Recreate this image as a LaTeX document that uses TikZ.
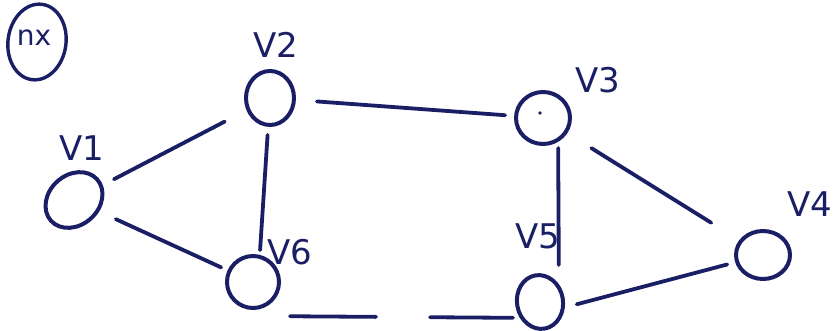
\documentclass[tikz,border=0pt]{standalone}
\usepackage{fontspec}
\setmainfont{DejaVu Sans}
\usetikzlibrary{shapes.geometric}
\definecolor{ink}{RGB}{26,30,100}
\tikzset{
  vert/.style={draw=ink, line width=4pt, ellipse, inner sep=0pt},
  lab/.style={text=ink, font=\fontsize{34}{38}\selectfont},
  edge/.style={draw=ink, line width=3.8pt, line cap=round},
}
\begin{document}
\begin{tikzpicture}[x=1pt,y=-1pt]
\useasboundingbox (0,0) rectangle (838,331);
% circled mark
\node[vert, minimum width=58pt, minimum height=76pt, rotate=-8, line width=3.4pt] (nx) at (37,42) {};
\node[lab, font=\fontsize{28}{32}\selectfont] (nxt) at (34,38) {nx};
% vertices
\node[vert, minimum width=62pt, minimum height=50pt, rotate=42] (v1) at (74,200) {};
\node[vert, minimum width=48pt, minimum height=54pt] (v2) at (270,98) {};
\node[vert, minimum width=54pt, minimum height=52pt] (v3) at (543,118) {};
\node[fill=ink, circle, inner sep=1.4pt] (v3dot) at (540,113) {};
\node[vert, minimum width=54pt, minimum height=48pt] (v4) at (763,255) {};
\node[vert, minimum width=46pt, minimum height=54pt, rotate=10] (v5) at (540,302) {};
\node[vert, minimum width=52pt, minimum height=52pt] (v6) at (253,282) {};
% labels
\node[lab] (l1) at (82,148) {V1};
\node[lab] (l2) at (276,45) {V2};
\node[lab] (l3) at (598,80) {V3};
\node[lab] (l4) at (810,204) {V4};
\node[lab] (l5) at (538,236) {V5};
\node[lab] (l6) at (290,252) {V6};
% edges
\draw[edge, shorten <=45pt, shorten >=51pt] (v1.center) -- (v2.center);
\draw[edge, shorten <=46pt, shorten >=35pt] (v1.center) -- (v6.center);
\draw[edge, shorten <=47pt, shorten >=38pt] (v2.center) -- (v3.center);
\draw[edge, shorten <=37pt, shorten >=32pt] (v2.center) -- ([xshift=5pt]v6.center);
\draw[edge, shorten <=30pt, shorten >=37pt] ([xshift=15pt]v3.center) -- ([xshift=19pt]v5.center);
\draw[edge, shorten <=57pt, shorten >=61pt] (v3.center) -- (v4.center);
\draw[edge, shorten <=37pt, shorten >=27pt, dash pattern=on 86pt off 54pt on 300pt]
  ([yshift=-34pt]v6.center) -- ([yshift=-16pt]v5.center);
\draw[edge, shorten <=38pt, shorten >=37pt] ([yshift=-12pt]v5.center) -- (v4.center);
\end{tikzpicture}
\end{document}
